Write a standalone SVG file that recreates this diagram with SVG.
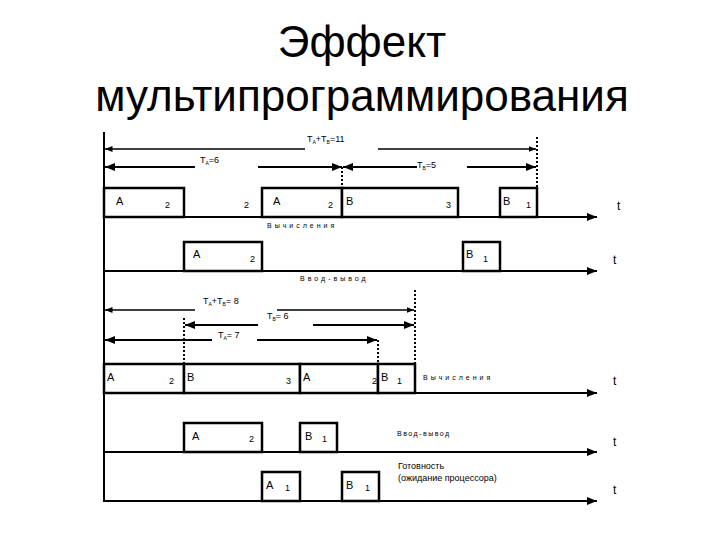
<svg xmlns="http://www.w3.org/2000/svg" width="720" height="540" viewBox="0 0 720 540">
<defs>
<marker id="ar" viewBox="0 0 10 10" refX="10" refY="5" markerWidth="5" markerHeight="5" orient="auto-start-reverse"><path d="M0,1 L10,5 L0,9 z" fill="#000"/></marker>
<style>
.ln{stroke:#000;stroke-width:2;fill:none}
.bx{stroke:#000;stroke-width:2.5;fill:#fff}
.ax{stroke:#000;stroke-width:2;fill:none;marker-end:url(#ar)}
.dim{stroke:#000;stroke-width:1.5;fill:none}
.dt{stroke:#000;stroke-width:2;stroke-dasharray:2,2;fill:none}
text{font-family:"Liberation Sans",Arial,sans-serif;fill:#000}
.s{font-size:9px}
.m{font-size:11px}
.sp{font-size:7px;letter-spacing:3px}
.t{font-size:12px}
.sub{font-size:5px}
</style>
</defs>
<rect width="720" height="540" fill="#fff"/>
<g id="title">
<text x="362" y="57" font-size="44" text-anchor="middle">Эффект</text>
<text x="362" y="111" font-size="44" text-anchor="middle">мультипрограммирования</text>
</g>
<g id="connectors">
<line class="ln" x1="104" y1="132" x2="104" y2="502"/>
<path class="dim" d="M305,149 H105" marker-end="url(#ar)"/>
<path class="dim" d="M378,149 H536" marker-end="url(#ar)"/>
<path class="ln" d="M195,167 H105" marker-end="url(#ar)"/>
<path class="ln" d="M258,167 H342" marker-end="url(#ar)"/>
<path class="ln" d="M417,167 H343" marker-end="url(#ar)"/>
<path class="ln" d="M467,167 H536" marker-end="url(#ar)"/>
<line class="dt" x1="342" y1="167" x2="342" y2="188"/>
<line class="dt" x1="537" y1="137" x2="537" y2="188"/>
<line class="ax" x1="104" y1="217" x2="597" y2="217"/>
<line class="ax" x1="104" y1="271" x2="597" y2="271"/>
<path class="dim" d="M195,310 H105" marker-end="url(#ar)"/>
<path class="dim" d="M277,310 H414" marker-end="url(#ar)"/>
<path class="ln" d="M258,325 H185" marker-end="url(#ar)"/>
<path class="ln" d="M313,325 H414" marker-end="url(#ar)"/>
<path class="ln" d="M212,340 H105" marker-end="url(#ar)"/>
<path class="ln" d="M257,340 H377" marker-end="url(#ar)"/>
<line class="dt" x1="184" y1="318" x2="184" y2="364"/>
<line class="dt" x1="378" y1="340" x2="378" y2="364"/>
<line class="dt" x1="415" y1="290" x2="415" y2="364"/>
<line class="ax" x1="104" y1="393" x2="597" y2="393"/>
<line class="ax" x1="104" y1="452" x2="597" y2="452"/>
<line class="ax" x1="104" y1="501" x2="597" y2="501"/>
</g>
<g id="labels-dims">
<text class="s" x="307" y="142">T<tspan class="sub" dy="2">А</tspan><tspan dy="-2">+T</tspan><tspan class="sub" dy="2">В</tspan><tspan dy="-2">=11</tspan></text>
<text class="s" x="200" y="163">T<tspan class="sub" dy="2">А</tspan><tspan dy="-2">=6</tspan></text>
<text class="s" x="417" y="168">T<tspan class="sub" dy="2">В</tspan><tspan dy="-2">=5</tspan></text>
<text class="s" x="203" y="304">T<tspan class="sub" dy="2">А</tspan><tspan dy="-2">+T</tspan><tspan class="sub" dy="2">В</tspan><tspan dy="-2">= 8</tspan></text>
<text class="s" x="267" y="319">T<tspan class="sub" dy="2">В</tspan><tspan dy="-2">= 6</tspan></text>
<text class="s" x="218" y="338">T<tspan class="sub" dy="2">А</tspan><tspan dy="-2">= 7</tspan></text>
</g>
<g id="row1">
<rect class="bx" x="104" y="188" width="80" height="29"/>
<rect class="bx" x="262" y="188" width="80" height="29"/>
<rect class="bx" x="342" y="188" width="116" height="29"/>
<rect class="bx" x="500" y="188" width="37" height="29"/>
<text class="m" x="116" y="205">A</text><text class="s" x="165" y="208">2</text>
<text class="s" x="244" y="208">2</text>
<text class="m" x="273" y="205">A</text><text class="s" x="328" y="208">2</text>
<text class="m" x="346" y="205">B</text><text class="s" x="446" y="208">3</text>
<text class="m" x="503" y="205">B</text><text class="s" x="526" y="208">1</text>
<text class="t" x="617" y="210">t</text>
<text class="sp" x="267" y="228">Вычисления</text>
</g>
<g id="row2">
<rect class="bx" x="184" y="242" width="78" height="29"/>
<rect class="bx" x="463" y="242" width="37" height="29"/>
<text class="m" x="193" y="258">A</text><text class="s" x="250" y="262">2</text>
<text class="m" x="466" y="258">B</text><text class="s" x="483" y="262">1</text>
<text class="t" x="613" y="264">t</text>
<text class="sp" x="300" y="281">Ввод-вывод</text>
</g>
<g id="row3">
<rect class="bx" x="104" y="364" width="80" height="29"/>
<rect class="bx" x="184" y="364" width="116" height="29"/>
<rect class="bx" x="300" y="364" width="78" height="29"/>
<rect class="bx" x="378" y="364" width="37" height="29"/>
<text class="m" x="107" y="381">A</text><text class="s" x="169" y="384">2</text>
<text class="m" x="187" y="381">B</text><text class="s" x="286" y="384">3</text>
<text class="m" x="303" y="381">A</text><text class="s" x="372" y="384">2</text>
<text class="m" x="381" y="381">B</text><text class="s" x="397" y="384">1</text>
<text class="sp" x="423" y="380">Вычисления</text>
<text class="t" x="613" y="385">t</text>
</g>
<g id="row4">
<rect class="bx" x="184" y="423" width="78" height="29"/>
<rect class="bx" x="300" y="423" width="37" height="29"/>
<text class="m" x="192" y="440">A</text><text class="s" x="249" y="442">2</text>
<text class="m" x="305" y="440">B</text><text class="s" x="322" y="442">1</text>
<text class="sp" x="397" y="436" style="letter-spacing:1.5px">Ввод-вывод</text>
<text class="t" x="613" y="446">t</text>
</g>
<g id="row5">
<rect class="bx" x="262" y="472" width="38" height="29"/>
<rect class="bx" x="342" y="472" width="37" height="29"/>
<text class="m" x="266" y="489">A</text><text class="s" x="285" y="491">1</text>
<text class="m" x="346" y="489">B</text><text class="s" x="365" y="491">1</text>
<text class="s" x="398" y="469">Готовность</text>
<text class="s" x="398" y="481">(ожидание процессора)</text>
<text class="t" x="613" y="494">t</text>
</g>
</svg>
